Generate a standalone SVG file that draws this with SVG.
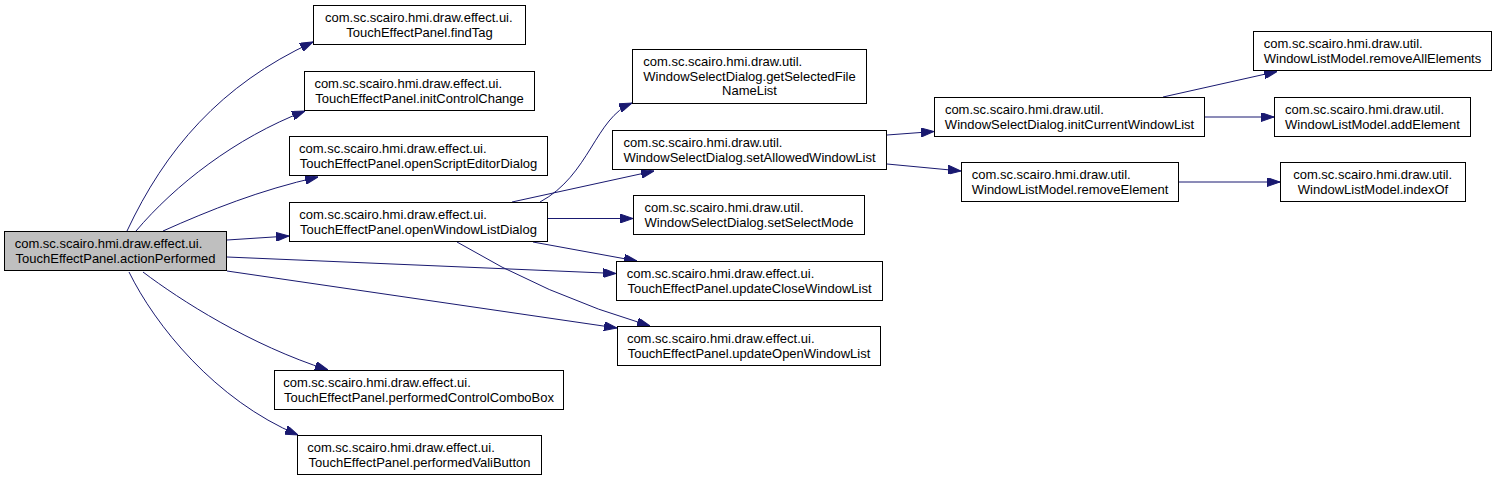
<svg xmlns="http://www.w3.org/2000/svg" width="1497" height="481" viewBox="0 0 1497 481">
<style>
.n rect{fill:#ffffff;stroke:#000000;stroke-width:1}
.n.main rect{fill:#bfbfbf}
.n text{font-family:"Liberation Sans",Arial,sans-serif;font-size:13px;fill:#000000}
.n text.c{text-anchor:middle}
#edges path{fill:none;stroke:#191970;stroke-width:1;marker-end:url(#arr)}
</style>
<defs>
<marker id="arr" viewBox="0 0 13 9" refX="13" refY="4.5" markerWidth="13" markerHeight="9" markerUnits="userSpaceOnUse" orient="auto">
<path d="M0,0 L13,4.5 L0,9 z" fill="#191970" stroke="#191970" stroke-width="1"/>
</marker>
</defs>
<rect width="1497" height="481" fill="#ffffff"/>
<g id="edges">
<path d="M127,231 C165,150 220,85 313,42"/>
<path d="M136,231 C175,185 235,138 305,111"/>
<path d="M163,231 C210,210 260,190 318,177"/>
<path d="M227,240 L289,236"/>
<path d="M227,257 L616,273.5"/>
<path d="M227,271 L617,328"/>
<path d="M143,272 C180,300 250,345 328,370"/>
<path d="M129,272 C155,325 215,400 298,435"/>
<path d="M540,202 C590,175 595,118 632,103"/>
<path d="M512,202 L654,171"/>
<path d="M548,218.5 L633,218.5"/>
<path d="M533,242 L637,261"/>
<path d="M457,242 Q545,295 650,326"/>
<path d="M887,135 L934,131.5"/>
<path d="M887,164 L961,171"/>
<path d="M1163,97 L1277,71.5"/>
<path d="M1205,117 L1274,117"/>
<path d="M1179,182 L1280,182"/>
</g>
<g id="actionPerformed" class="n main">
<rect x="4.5" y="231.5" width="222" height="39"/>
<text x="14.7" y="248">com.sc.scairo.hmi.draw.effect.ui.</text>
<text class="c" x="115.5" y="262.5">TouchEffectPanel.actionPerformed</text>
</g>
<g id="findTag" class="n">
<rect x="313.5" y="5.5" width="212" height="39"/>
<text x="325" y="22">com.sc.scairo.hmi.draw.effect.ui.</text>
<text class="c" x="419.5" y="36.5">TouchEffectPanel.findTag</text>
</g>
<g id="initControlChange" class="n">
<rect x="304.5" y="71.5" width="230" height="39"/>
<text x="314.4" y="88">com.sc.scairo.hmi.draw.effect.ui.</text>
<text class="c" x="419.5" y="102.5">TouchEffectPanel.initControlChange</text>
</g>
<g id="openScriptEditorDialog" class="n">
<rect x="289.5" y="136.5" width="258" height="39"/>
<text x="299" y="153">com.sc.scairo.hmi.draw.effect.ui.</text>
<text class="c" x="418.5" y="167.5">TouchEffectPanel.openScriptEditorDialog</text>
</g>
<g id="openWindowListDialog" class="n">
<rect x="289.5" y="202.5" width="258" height="39"/>
<text x="299.3" y="219">com.sc.scairo.hmi.draw.effect.ui.</text>
<text class="c" x="418.5" y="233.5">TouchEffectPanel.openWindowListDialog</text>
</g>
<g id="performedControlComboBox" class="n">
<rect x="274.5" y="370.5" width="289" height="39"/>
<text x="283.2" y="387">com.sc.scairo.hmi.draw.effect.ui.</text>
<text class="c" x="419" y="401.5">TouchEffectPanel.performedControlComboBox</text>
</g>
<g id="performedValiButton" class="n">
<rect x="297.5" y="435.5" width="244" height="39"/>
<text x="307.2" y="452">com.sc.scairo.hmi.draw.effect.ui.</text>
<text class="c" x="419.5" y="466.5">TouchEffectPanel.performedValiButton</text>
</g>
<g id="getSelectedFileNameList" class="n">
<rect x="632.5" y="49.5" width="234" height="54"/>
<text x="643.3" y="66">com.sc.scairo.hmi.draw.util.</text>
<text x="643.3" y="80.5">WindowSelectDialog.getSelectedFile</text>
<text class="c" x="749.5" y="95">NameList</text>
</g>
<g id="setAllowedWindowList" class="n">
<rect x="612.5" y="130.5" width="274" height="39"/>
<text x="623.5" y="147">com.sc.scairo.hmi.draw.util.</text>
<text class="c" x="749.5" y="161.5">WindowSelectDialog.setAllowedWindowList</text>
</g>
<g id="setSelectMode" class="n">
<rect x="633.5" y="195.5" width="231" height="39"/>
<text x="644.6" y="212">com.sc.scairo.hmi.draw.util.</text>
<text class="c" x="749" y="226.5">WindowSelectDialog.setSelectMode</text>
</g>
<g id="updateCloseWindowList" class="n">
<rect x="616.5" y="261.5" width="266" height="39"/>
<text x="626.7" y="278">com.sc.scairo.hmi.draw.effect.ui.</text>
<text class="c" x="749.5" y="292.5">TouchEffectPanel.updateCloseWindowList</text>
</g>
<g id="updateOpenWindowList" class="n">
<rect x="617.5" y="326.5" width="263" height="39"/>
<text x="626.9" y="343">com.sc.scairo.hmi.draw.effect.ui.</text>
<text class="c" x="749" y="357.5">TouchEffectPanel.updateOpenWindowList</text>
</g>
<g id="initCurrentWindowList" class="n">
<rect x="934.5" y="97.5" width="270" height="39"/>
<text x="944.9" y="114">com.sc.scairo.hmi.draw.util.</text>
<text class="c" x="1069.5" y="128.5">WindowSelectDialog.initCurrentWindowList</text>
</g>
<g id="removeElement" class="n">
<rect x="961.5" y="162.5" width="217" height="39"/>
<text x="971.8" y="179">com.sc.scairo.hmi.draw.util.</text>
<text class="c" x="1070" y="193.5">WindowListModel.removeElement</text>
</g>
<g id="removeAllElements" class="n">
<rect x="1253.5" y="31.5" width="238" height="39"/>
<text x="1263.8" y="48">com.sc.scairo.hmi.draw.util.</text>
<text class="c" x="1372.5" y="62.5">WindowListModel.removeAllElements</text>
</g>
<g id="addElement" class="n">
<rect x="1274.5" y="97.5" width="196" height="39"/>
<text x="1285.1" y="114">com.sc.scairo.hmi.draw.util.</text>
<text class="c" x="1372.5" y="128.5">WindowListModel.addElement</text>
</g>
<g id="indexOf" class="n">
<rect x="1280.5" y="162.5" width="185" height="39"/>
<text x="1293.2" y="179">com.sc.scairo.hmi.draw.util.</text>
<text class="c" x="1373" y="193.5">WindowListModel.indexOf</text>
</g>
</svg>
